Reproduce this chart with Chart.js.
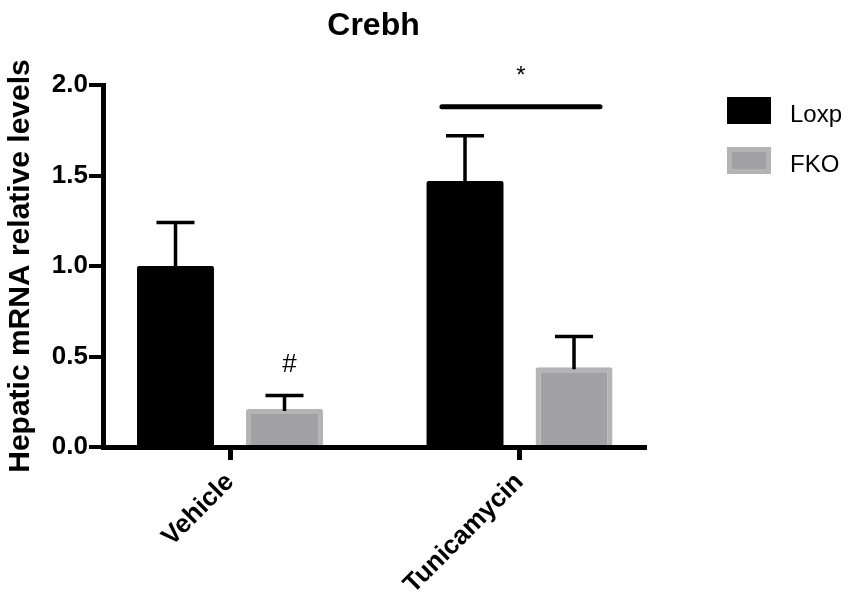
<!DOCTYPE html>
<html>
<head>
<meta charset="utf-8">
<title>Crebh</title>
<script src="https://cdn.jsdelivr.net/npm/chart.js@4.4.1/dist/chart.umd.min.js"></script>
<style>
  html, body { margin: 0; padding: 0; background: #fff; }
  #chart-container { width: 856px; height: 593px; }
</style>
</head>
<body>
<div id="chart-container"><canvas id="crebhChart"></canvas></div>
<script>
// values
const categories = ["Vehicle", "Tunicamycin"];
const seriesNames = ["Loxp", "FKO"];
const loxpMeans = [1.0, 1.47];
const loxpSem = [0.24, 0.25];
const fkoMeans = [0.21, 0.44];
const fkoSem = [0.075, 0.17];

const FONT = "'Liberation Sans', Arial, Helvetica, sans-serif";

// upper error bars with caps
const errorBars = {
  id: "errorBars",
  afterDatasetsDraw(chart) {
    const ctx = chart.ctx;
    const y = chart.scales.y;
    ctx.save();
    ctx.strokeStyle = "#000";
    ctx.lineWidth = 3.5;
    chart.data.datasets.forEach((ds, di) => {
      chart.getDatasetMeta(di).data.forEach((bar, i) => {
        const top = y.getPixelForValue(ds.data[i].y + ds.sem[i]);
        ctx.beginPath();
        ctx.moveTo(bar.x, bar.y + 2);
        ctx.lineTo(bar.x, top);
        ctx.moveTo(bar.x - 19, top);
        ctx.lineTo(bar.x + 19, top);
        ctx.stroke();
      });
    });
    ctx.restore();
  }
};

// significance marks and legend
const marks = {
  id: "marks",
  afterDraw(chart) {
    const { ctx, scales: { x, y }, chartArea } = chart;
    const fko = chart.getDatasetMeta(1).data;
    ctx.save();
    ctx.fillStyle = "#000";
    ctx.textAlign = "center";
    ctx.textBaseline = "alphabetic";
    ctx.font = "26px " + FONT;
    ctx.fillText("#", fko[0].x + 5, y.getPixelForValue(0.414));

    ctx.font = "24px " + FONT;
    ctx.fillText("*", x.getPixelForValue(1) + 1.5, y.getPixelForValue(2.01));

    ctx.strokeStyle = "#000";
    ctx.lineWidth = 5;
    ctx.lineCap = "round";
    ctx.beginPath();
    ctx.moveTo(x.getPixelForValue(1 - 0.268), y.getPixelForValue(1.88));
    ctx.lineTo(x.getPixelForValue(1 + 0.278), y.getPixelForValue(1.88));
    ctx.stroke();

    // legend
    ctx.font = "24px " + FONT;
    ctx.textAlign = "left";
    chart.data.datasets.forEach((ds, i) => {
      const bx = chartArea.right + 83;
      const by = 97 + i * 50;
      ctx.fillStyle = ds.borderColor;
      ctx.fillRect(bx, by, 44, 27);
      if (ds.borderWidth) {
        ctx.fillStyle = ds.backgroundColor;
        ctx.fillRect(bx + 5, by + 5, 34, 17);
      }
      ctx.fillStyle = "#000";
      ctx.fillText(ds.label, bx + 63, by + 25);
    });
    ctx.restore();
  }
};

const ctx = document.getElementById("crebhChart").getContext("2d");

new Chart(ctx, {
  type: "bar",
  data: {
    datasets: [
      {
        label: seriesNames[0],
        data: categories.map((c, i) => ({ x: i, y: loxpMeans[i] })),
        sem: loxpSem,
        backgroundColor: "#000000",
        borderColor: "#000000",
        borderWidth: 0,
        borderRadius: 2,
      },
      {
        label: seriesNames[1],
        data: categories.map((c, i) => ({ x: i, y: fkoMeans[i] })),
        sem: fkoSem,
        backgroundColor: "#a1a1a5",
        borderColor: "#b4b4b4",
        borderWidth: 5,
        borderRadius: 2,
      },
    ],
  },
  options: {
    responsive: true,
    maintainAspectRatio: false,
    animation: false,
    layout: {
      padding: { left: 0, right: 212, top: 0, bottom: 0 },
    },
    datasets: {
      bar: { categoryPercentage: 0.753, barPercentage: 0.706 },
    },
    scales: {
      x: {
        type: "linear",
        min: -0.4387,
        max: 1.43,
        offset: false,
        z: 1,
        afterBuildTicks: (axis) => {
          axis.ticks = categories.map((c, i) => ({ value: i }));
        },
        afterFit: (axis) => {
          axis.height = 146;
        },
        grid: {
          display: true,
          offset: false,
          drawOnChartArea: false,
          drawTicks: true,
          tickLength: 13,
          lineWidth: 5,
          color: "#000",
        },
        border: { display: true, color: "#000", width: 5 },
        ticks: {
          color: "#000",
          font: { family: FONT, size: 26, weight: "bold" },
          padding: 7,
          minRotation: 45,
          maxRotation: 45,
          autoSkip: false,
          callback: (v) => categories[v],
        },
      },
      y: {
        min: 0,
        max: 2,
        z: 1,
        afterFit: (axis) => {
          axis.width = 103;
        },
        grid: {
          display: true,
          drawOnChartArea: false,
          drawTicks: true,
          tickLength: 14,
          lineWidth: 4,
          color: "#000",
        },
        border: { display: true, color: "#000", width: 5 },
        ticks: {
          stepSize: 0.5,
          color: "#000",
          padding: 1,
          font: { family: FONT, size: 26, weight: "bold" },
          callback: (v) => v.toFixed(1),
        },
        title: {
          display: true,
          text: "Hepatic mRNA relative levels",
          color: "#000",
          font: { family: FONT, size: 30, weight: "bold" },
          padding: { top: 3, bottom: 0 },
        },
      },
    },
    plugins: {
      legend: { display: false },
      tooltip: { enabled: false },
      title: {
        display: true,
        text: "Crebh",
        fullSize: false,
        color: "#000",
        font: { family: FONT, size: 32, weight: "bold" },
        padding: { top: 6.8, bottom: 39.8 },
      },
    },
  },
  plugins: [errorBars, marks],
});
</script>
</body>
</html>
